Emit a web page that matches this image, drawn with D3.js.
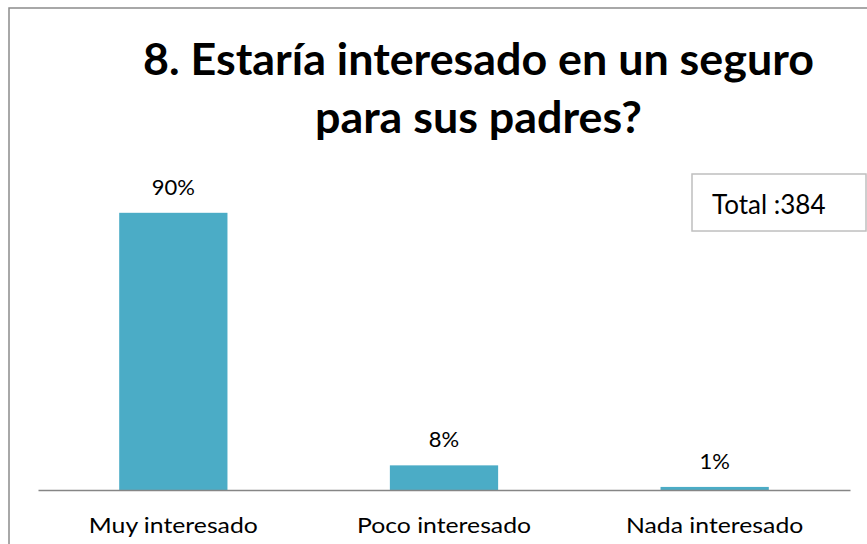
<!DOCTYPE html>
<html>
<head>
<meta charset="utf-8">
<script src="https://cdn.jsdelivr.net/npm/d3@7"></script>
<style>
  html, body { margin: 0; padding: 0; background: #ffffff; }
  svg { display: block; }
</style>
</head>
<body>
<svg id="chart" width="867" height="544"></svg>
<script>
// Survey answers and their shares (percent)
const categories = ["Muy interesado", "Poco interesado", "Nada interesado"];
const shares = [90, 8, 1];
const titleLines = ["8. Estaría interesado en un seguro", "para sus padres?"];
const totalLabel = "Total :384";

const svg = d3.select("#chart");
const W = 867, H = 544;
const FONT = "Lato, 'Open Sans', sans-serif";

// outer chart frame (continues past the right and bottom edges)
svg.append("rect")
  .attr("x", 9).attr("y", 8)
  .attr("width", W + 20).attr("height", H + 20)
  .attr("fill", "#ffffff")
  .attr("stroke", "#8c8c8c")
  .attr("stroke-width", 1.5);

// plot area
const plot = { left: 38, right: 850, bottom: 490, top: 182 };

const x = d3.scaleBand()
  .domain(categories)
  .range([plot.left, plot.right])
  .paddingInner(0.6)
  .paddingOuter(0.3);

const y = d3.scaleLinear()
  .domain([0, 100])
  .range([plot.bottom, plot.top]);

// bars
svg.append("g")
  .selectAll("rect")
  .data(categories.map((c, i) => ({ c, v: shares[i] })))
  .join("rect")
  .attr("x", d => x(d.c))
  .attr("y", d => y(d.v))
  .attr("width", x.bandwidth())
  .attr("height", d => y(0) - y(d.v))
  .attr("fill", "#4bacc6");

// value labels above the bars
svg.append("g")
  .selectAll("text")
  .data(categories.map((c, i) => ({ c, v: shares[i] })))
  .join("text")
  .attr("x", d => x(d.c) + x.bandwidth() / 2)
  .attr("y", d => y(d.v) - 18)
  .attr("text-anchor", "middle")
  .attr("font-family", FONT)
  .attr("font-size", 22)
  .attr("fill", "#000")
  .text(d => d.v + "%");

// category axis (line only, labels drawn below)
const xAxis = d3.axisBottom(x).tickSize(0).tickPadding(0);
const axisG = svg.append("g")
  .attr("transform", `translate(0,${plot.bottom})`)
  .call(xAxis);
axisG.select(".domain")
  .attr("stroke", "#868686")
  .attr("stroke-width", 1.6);
axisG.selectAll(".tick text").remove();

const catLabels = svg.append("g")
  .selectAll("text")
  .data(categories)
  .join("text")
  .attr("x", d => x(d) + x.bandwidth() / 2)
  .attr("y", 533)
  .attr("text-anchor", "middle")
  .attr("font-family", FONT)
  .attr("font-size", 22)
  .attr("fill", "#000")
  .text(d => d);

// condense category labels to the narrower face width
const catNodes = catLabels.nodes();
const catFactor = 169 / catNodes[0].getComputedTextLength();
catNodes.forEach(n => {
  const len = n.getComputedTextLength() * catFactor;
  n.setAttribute("textLength", len);
  n.setAttribute("lengthAdjust", "spacingAndGlyphs");
});

// title, two centred lines
const titleX = 478.5;
const titleG = svg.append("g");
const titleNodes = titleLines.map((t, i) =>
  titleG.append("text")
    .attr("x", titleX)
    .attr("y", 75 + i * 58)
    .attr("text-anchor", "middle")
    .attr("font-family", FONT)
    .attr("font-weight", "bold")
    .attr("font-size", 44)
    .attr("fill", "#000")
    .text(t)
    .node());
const titleFactor = 671 / titleNodes[0].getComputedTextLength();
titleNodes.forEach(n => {
  n.setAttribute("textLength", n.getComputedTextLength() * titleFactor);
  n.setAttribute("lengthAdjust", "spacingAndGlyphs");
});

// total box
svg.append("rect")
  .attr("x", 692).attr("y", 174)
  .attr("width", 174).attr("height", 57)
  .attr("fill", "#ffffff")
  .attr("stroke", "#bfbfbf")
  .attr("stroke-width", 1.5);
svg.append("text")
  .attr("x", 712)
  .attr("y", 214)
  .attr("font-family", FONT)
  .attr("font-size", 26)
  .attr("fill", "#000")
  .text(totalLabel);
</script>
</body>
</html>
